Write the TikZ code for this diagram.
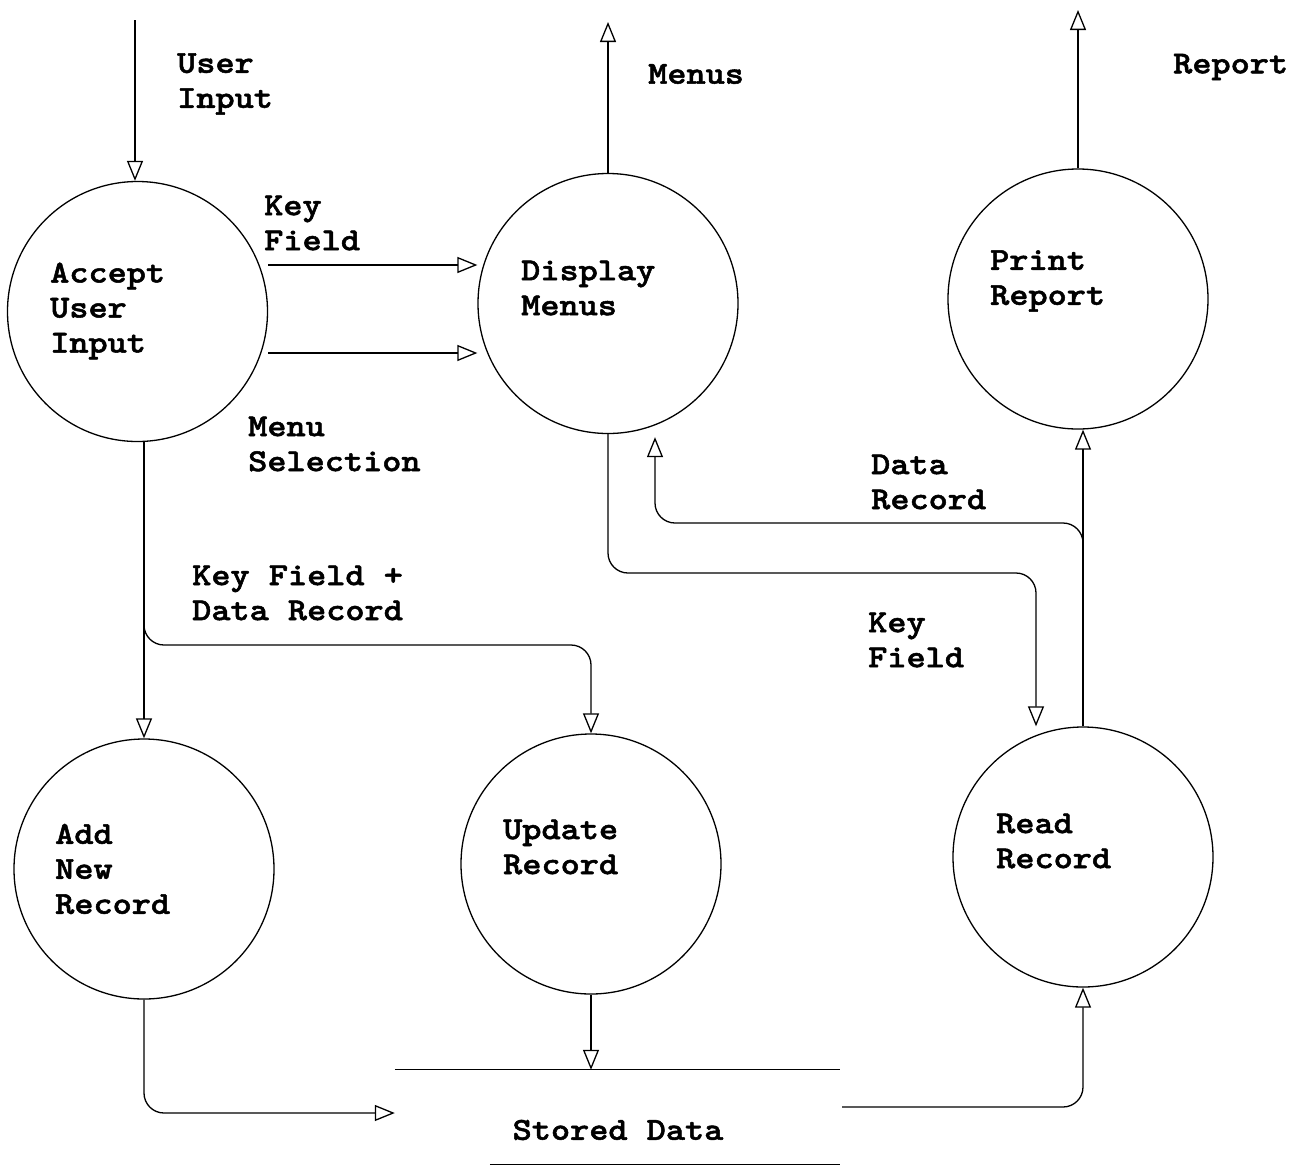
\documentclass[tikz,border=0pt]{standalone}
\usepackage{fontspec}
\newfontfamily\courfont[Extension=.otf,FakeStretch=1.14,FakeBold=1.6]{lmmonolt10-bold}
\usetikzlibrary{arrows.meta,calc}
\begin{document}
\begin{tikzpicture}[x=1pt,y=-1pt,
  proc/.style={circle,draw,line width=1.3pt,minimum size=260pt,inner sep=0pt},
  txt/.style={inner sep=0pt,font=\fontsize{32}{35}\selectfont\courfont},
  lbl/.style={txt,anchor=west,align=left},
  flow/.style={line width=1.3pt,-{Triangle[open,length=20pt,width=16pt,line width=1.3pt]}},
  link/.style={line width=1.3pt}]
\useasboundingbox (0,0) rectangle (1302,1168);

% processes
\node[proc] (acc)  at (137.5,311.5) {};
\node[proc] (disp) at (608,303.5) {};
\node[proc] (prt)  at (1078,299) {};
\node[proc] (add)  at (144,869) {};
\node[proc] (upd)  at (591,864) {};
\node[proc] (read) at (1083,857) {};

\node[lbl] (accT)  at (50,311)  {Accept\\User\\Input};
\node[lbl] (dispT) at (521,288) {Display\\Menus};
\node[lbl] (prtT)  at (990,281) {Print\\Report};
\node[lbl] (addT)  at (55,869)  {Add\\New\\Record};
\node[lbl] (updT)  at (503,847) {Update\\Record};
\node[lbl] (readT) at (996,841) {Read\\Record};

% data store
\node[inner sep=0pt,minimum width=445pt,minimum height=94pt] (store) at (617.5,1117) {};
\node[txt] (storeT) at (618,1130) {Stored Data};
\draw[link] (store.north west) -- (store.north east);
\draw[link] ($(store.south west)+(95,0)$) -- (store.south east);

% external flows
\coordinate (uin)  at (135,20);
\coordinate (mout) at (608,22);
\coordinate (rout) at (1078,10);
\draw[flow] (uin) -- (uin |- acc.north);
\draw[flow] (disp.north) -- (mout);
\draw[flow] (prt.north) -- (rout);

\node[lbl] (uinT)  at (177,84)  {User\\Input};
\node[lbl] (moutT) at (648,74)  {Menus};
\node[lbl] (routT) at (1173,67) {Report};

% flows between processes
\draw[flow] (acc.east |- 0,265) -- (disp.west |- 0,265);
\draw[flow] (acc.east |- 0,353) -- (disp.west |- 0,353);
\node[lbl] (kf1T) at (264,223) {Key\\Field};
\node[lbl] (msT)  at (248,444) {Menu\\Selection};

\draw[flow] (acc.south -| add.north) -- (add.north);
\coordinate (br1) at (144,610);
\draw[flow,rounded corners=20pt] (br1) |- (upd.north |- 0,645) -- (upd.north);
\node[lbl] (kfdrT) at (192,593) {Key Field +\\Data Record};

\draw[flow,rounded corners=20pt] (disp.south) -- (disp.south |- 0,573) -- (1036,573) -- (read.north -| 1036,0);
\node[lbl] (kf2T) at (868,640) {Key\\Field};

\draw[flow] (read.north) -- (read.north |- prt.south);
\coordinate (br2) at (1083,565);
\draw[flow,rounded corners=20pt] (br2) -- (1083,523) -- (655,523) -- ($(disp.south -| 655,0)+(0,3)$);
\node[lbl] (drT) at (871,482) {Data\\Record};

% flows to and from the store
\draw[flow,rounded corners=20pt] (add.south) |- ($(store.west)+(0,-4)$);
\draw[flow] (upd.south) -- (upd.south |- store.north);
\draw[flow,rounded corners=20pt] ($(store.east)+(2,-10)$) -| (read.south);
\end{tikzpicture}
\end{document}
